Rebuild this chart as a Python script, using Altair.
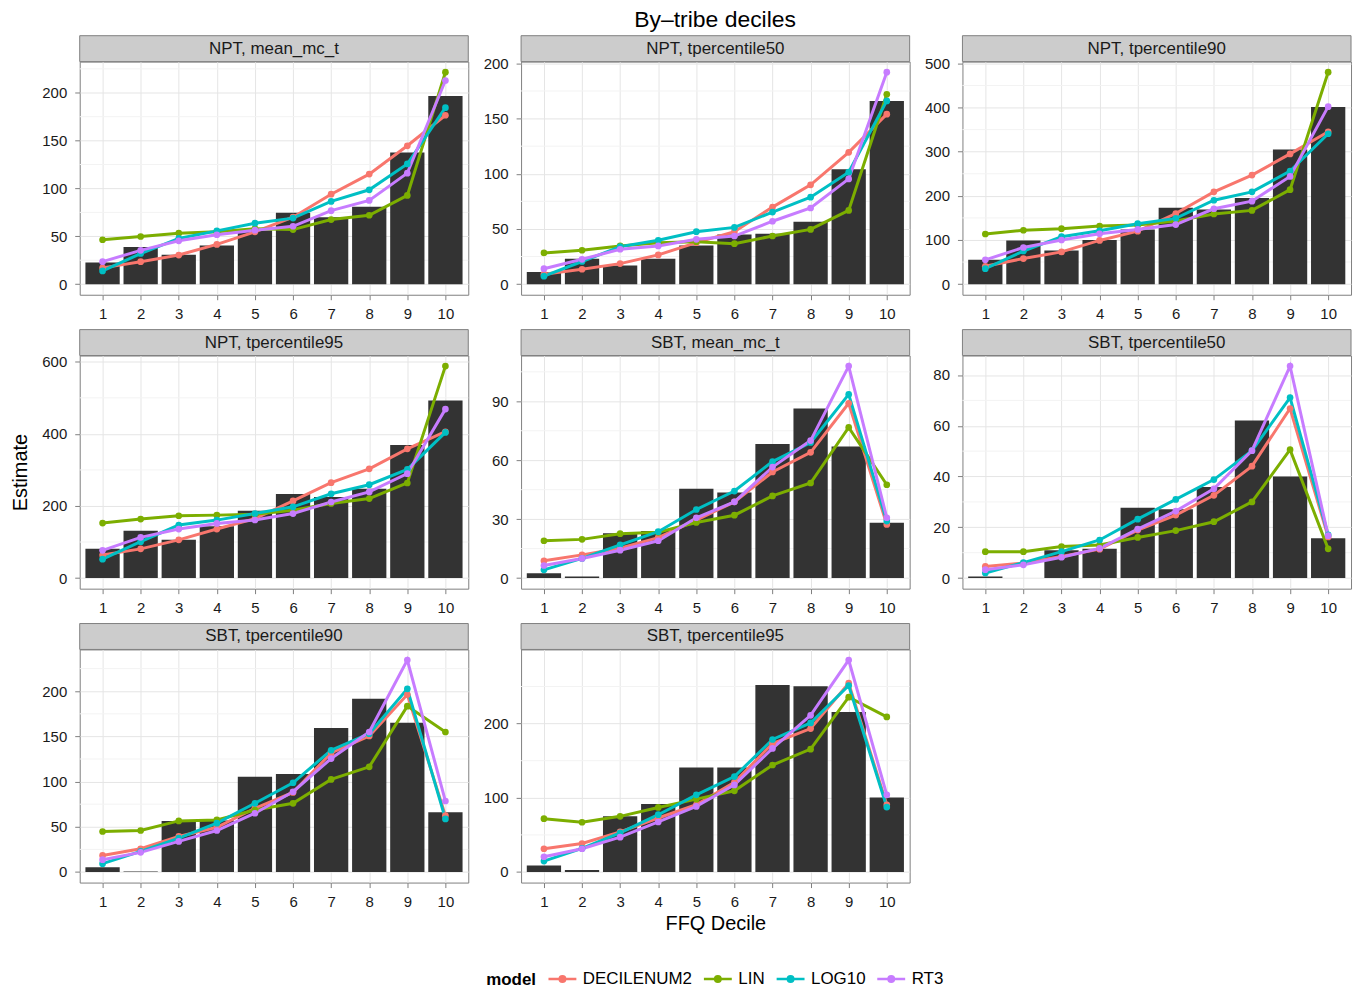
import altair as alt
import pandas as pd

DECILES = list(range(1, 11))
MODELS = ["DECILENUM2", "LIN", "LOG10", "RT3"]
MODEL_COLORS = ["#F8766D", "#7CAE00", "#00BFC4", "#C77CFF"]

# ---- NPT, mean_mc_t ----
npt_mean_obs = [22.5, 38.8, 30.8, 40.5, 56, 74.7, 70, 81, 137.7, 196.5]
npt_mean_fit = {
    "DECILENUM2": [17, 23.5, 30.4, 41.5, 54.7, 70, 94, 115, 144.6, 176.5],
    "LIN": [46.4, 49.8, 53.3, 54.7, 58, 57, 67.5, 72, 92.7, 221.5],
    "LOG10": [13.8, 32, 47.8, 55.7, 63.7, 69, 86.5, 98.6, 125.6, 184.4],
    "RT3": [23.5, 35.3, 45.3, 51.6, 56.4, 60.5, 76.8, 87.5, 116, 212.8],
}
npt_mean_breaks = [0, 50, 100, 150, 200]

# ---- NPT, tpercentile50 ----
npt_p50_obs = [11, 23, 17, 23, 35, 45, 45.7, 56.5, 104, 166]
npt_p50_fit = {
    "DECILENUM2": [9, 13.5, 18.6, 26.5, 37.6, 47.5, 69.8, 90, 119.4, 154],
    "LIN": [28.3, 30.7, 34.6, 37.6, 38.5, 36.7, 43.6, 49.6, 66.8, 172],
    "LOG10": [7.2, 20.5, 34, 39.7, 47.5, 51.4, 65.3, 78.8, 101.4, 166],
    "RT3": [14, 22.5, 31.6, 34.6, 40.6, 43.6, 57, 69, 95.3, 192],
}
npt_p50_breaks = [0, 50, 100, 150, 200]

# ---- NPT, tpercentile90 ----
npt_p90_obs = [55, 99, 76, 100, 124, 173, 169, 195, 305, 401]
npt_p90_fit = {
    "DECILENUM2": [40.6, 58, 73, 99, 120, 160, 209, 247, 295, 345],
    "LIN": [113.5, 122, 125.6, 131.6, 134, 143, 159, 167, 214, 480],
    "LOG10": [35, 75, 107.5, 121, 137, 149, 190, 209, 256, 340.6],
    "RT3": [55, 83, 100, 114, 124, 135, 170.7, 188, 244, 402],
}
npt_p90_breaks = [0, 100, 200, 300, 400, 500]

# ---- NPT, tpercentile95 ----
npt_p95_obs = [81, 131, 106, 144, 186.6, 233.5, 225, 248, 369.5, 492.6]
npt_p95_fit = {
    "DECILENUM2": [64, 81, 106, 136, 165, 214, 264.7, 303, 358.5, 406],
    "LIN": [152.6, 163.6, 172.8, 174.6, 177, 188.4, 206.8, 220.6, 263.8, 588],
    "LOG10": [52.4, 101, 147, 160.8, 179, 197.6, 234, 259, 301.5, 404],
    "RT3": [77, 113, 136, 151.6, 161, 179, 211, 239, 289.5, 468.7],
}
npt_p95_breaks = [0, 200, 400, 600]

# ---- SBT, mean_mc_t ----
sbt_mean_obs = [2.4, 0.8, 22.8, 24, 45.5, 43.5, 68.3, 86.3, 67, 28.1]
sbt_mean_fit = {
    "DECILENUM2": [8.8, 11.8, 15.2, 20.6, 29.5, 38.8, 54, 64, 89, 27.3],
    "LIN": [19, 19.7, 22.6, 23.3, 28.3, 32, 41.8, 48.4, 76.7, 47.5],
    "LOG10": [4.2, 10, 16.9, 23.6, 34.9, 44.3, 59.3, 69, 93.5, 29],
    "RT3": [6.4, 10, 14.2, 19, 30.7, 38.8, 56.5, 70, 107.9, 30.7],
}
sbt_mean_breaks = [0, 30, 60, 90]

# ---- SBT, tpercentile50 ----
sbt_p50_obs = [0.65, 0, 11, 11.5, 27.7, 27.1, 35.9, 62.1, 40, 15.7]
sbt_p50_fit = {
    "DECILENUM2": [4.6, 5.9, 8.5, 11.4, 18.9, 24.8, 32.6, 44.1, 66.8, 16.2],
    "LIN": [10.4, 10.4, 12.4, 13, 16, 18.7, 22.2, 30, 50.6, 11.5],
    "LOG10": [2, 6.1, 10.4, 15, 23.2, 31, 38.8, 50.2, 71.1, 17],
    "RT3": [3.3, 5.2, 8.2, 11.7, 19.3, 26.4, 35.2, 50.2, 83.5, 16.7],
}
sbt_p50_breaks = [0, 20, 40, 60, 80]

# ---- SBT, tpercentile90 ----
sbt_p90_obs = [5.1, 0.4, 56.5, 57, 105.3, 108.3, 159.3, 191.6, 165, 66]
sbt_p90_fit = {
    "DECILENUM2": [18.3, 25.7, 39.3, 49.5, 70.5, 88, 131.7, 150.5, 196.3, 62.4],
    "LIN": [44.8, 45.9, 56.5, 57.6, 68.6, 76, 102.4, 116.3, 183.5, 154.9],
    "LOG10": [9.2, 22.8, 37.4, 54, 76, 98.7, 134.7, 153, 202.6, 58.7],
    "RT3": [13.6, 21.7, 33.8, 45.9, 65, 88.8, 125.5, 154.9, 234.5, 78.5],
}
sbt_p90_breaks = [0, 50, 100, 150, 200]

# ---- SBT, tpercentile95 ----
sbt_p95_obs = [8.9, 2.7, 75, 91.5, 141, 141, 252.2, 250.4, 215.6, 100.4]
sbt_p95_fit = {
    "DECILENUM2": [31.3, 38.4, 54, 72.8, 90.6, 121, 173.2, 193.3, 254.5, 90.6],
    "LIN": [71.9, 67, 75, 87, 98.2, 109.4, 144.2, 165.6, 235.7, 209],
    "LOG10": [14.7, 31.7, 52.7, 77.2, 104, 128.6, 178.6, 200.9, 251.3, 87.5],
    "RT3": [20.5, 31.3, 46.9, 67.4, 88.4, 117.4, 166.5, 211.2, 285.7, 104],
}
sbt_p95_breaks = [0, 100, 200]

PANELS = [
    ("NPT, mean_mc_t", npt_mean_obs, npt_mean_fit, npt_mean_breaks),
    ("NPT, tpercentile50", npt_p50_obs, npt_p50_fit, npt_p50_breaks),
    ("NPT, tpercentile90", npt_p90_obs, npt_p90_fit, npt_p90_breaks),
    ("NPT, tpercentile95", npt_p95_obs, npt_p95_fit, npt_p95_breaks),
    ("SBT, mean_mc_t", sbt_mean_obs, sbt_mean_fit, sbt_mean_breaks),
    ("SBT, tpercentile50", sbt_p50_obs, sbt_p50_fit, sbt_p50_breaks),
    ("SBT, tpercentile90", sbt_p90_obs, sbt_p90_fit, sbt_p90_breaks),
    ("SBT, tpercentile95", sbt_p95_obs, sbt_p95_fit, sbt_p95_breaks),
]

W, H, STRIP = 390, 234, 26
FONT = "Liberation Sans"

# line segment with a dot, like a line+point legend key
KEY_SHAPE = ("M-1,0L1,0M-0.2,0A0.2,0.2,0,1,0,0.2,0"
             "A0.2,0.2,0,1,0,-0.2,0Z")

color_scale = alt.Scale(domain=MODELS, range=MODEL_COLORS)
legend = alt.Legend(
    title="model", orient="none", legendX=408, legendY=905,
    direction="horizontal", titleOrient="left",
    titleBaseline="line-top", titleLineHeight=11, symbolType=KEY_SHAPE,
    symbolSize=784, symbolStrokeWidth=2.4, labelFontSize=17,
    titleFontSize=17, titleFontWeight="bold", labelFont=FONT,
    titleFont=FONT, columnPadding=6, labelOffset=5, titlePadding=10,
    symbolOffset=0,
)


def make_panel(i, label, obs, fit, breaks):
    bars = pd.DataFrame({"decile": DECILES, "obs": obs})
    est = pd.DataFrame(
        [{"decile": d, "model": m, "est": v}
         for m in MODELS for d, v in zip(DECILES, fit[m])]
    )
    top = max(max(obs), est["est"].max())
    lo, hi = -0.05 * top, 1.05 * top
    step = breaks[1] - breaks[0]
    minors = [b + step / 2 for b in [breaks[0] - step] + breaks]
    minors = [m for m in minors if lo < m < hi]

    y_scale = alt.Scale(domain=[lo, hi], nice=False, zero=False)
    x_scale = alt.Scale(domain=[0.4, 10.6], nice=False, zero=False)
    y_axis = alt.Axis(values=breaks, format="d", grid=True,
                      title="Estimate" if i == 3 else None,
                      labelPadding=8, minExtent=38, maxExtent=38,
                      titlePadding=11)
    x_axis = alt.Axis(values=DECILES, format="d", grid=True,
                      title="FFQ Decile" if i == 7 else None,
                      labelPadding=7, titlePadding=4)

    base_x = alt.X("decile:Q", scale=x_scale, axis=x_axis)

    minor = alt.Chart(pd.DataFrame({"v": minors})).mark_rule(
        color="#F3F3F3", strokeWidth=1
    ).encode(y=alt.Y("v:Q", scale=y_scale, axis=y_axis))

    bar = alt.Chart(bars).transform_calculate(
        lo="datum.decile - 0.45", hi="datum.decile + 0.45"
    ).mark_rect(color="#333333").encode(
        x=alt.X("lo:Q", scale=x_scale, axis=x_axis),
        x2="hi:Q",
        y=alt.Y("obs:Q", scale=y_scale, axis=y_axis),
        y2=alt.datum(0),
    )

    color = alt.Color("model:N", scale=color_scale, legend=legend)
    line = alt.Chart(est).mark_line(strokeWidth=3).encode(
        x=base_x, y=alt.Y("est:Q", scale=y_scale, axis=y_axis), color=color
    )
    pts = alt.Chart(est).mark_circle(size=45, opacity=1).encode(
        x=base_x, y=alt.Y("est:Q", scale=y_scale, axis=y_axis), color=color
    )

    strip_df = pd.DataFrame({"label": [label]})
    strip = alt.Chart(strip_df).mark_rect(
        fill="#CCCCCC", stroke="#7F7F7F", strokeWidth=1
    ).encode(x=alt.value(0), x2=alt.value(W), y=alt.value(-STRIP),
             y2=alt.value(0))
    strip_text = alt.Chart(strip_df).mark_text(
        font=FONT, fontSize=17, color="#1A1A1A", baseline="middle"
    ).encode(x=alt.value(W / 2), y=alt.value(-STRIP / 2), text="label:N")

    return alt.layer(minor, bar, line, pts, strip, strip_text).properties(
        width=W, height=H
    )


panels = [make_panel(i, *p) for i, p in enumerate(PANELS)]

chart = alt.concat(
    *panels, columns=3, spacing={"row": 6, "column": 13}
).properties(
    title=alt.TitleParams("By\u2013tribe deciles", fontSize=23, font=FONT,
                          fontWeight="normal", anchor="middle", offset=3,
                          dx=34, color="#000000"),
    padding={"left": 10, "top": 7, "right": 4, "bottom": 4},
).configure_view(
    stroke="#7F7F7F", strokeWidth=1
).configure_axis(
    labelFont=FONT, labelFontSize=15, labelColor="#1A1A1A",
    titleFont=FONT, titleFontSize=20, titleFontWeight="normal",
    titleColor="#000000", tickColor="#7F7F7F", tickSize=5,
    domain=False, gridColor="#E5E5E5", gridWidth=1,
).configure_legend(
    labelColor="#000000", titleColor="#000000"
)

chart.save("out.html", embed_options={"renderer": "svg", "actions": False})
